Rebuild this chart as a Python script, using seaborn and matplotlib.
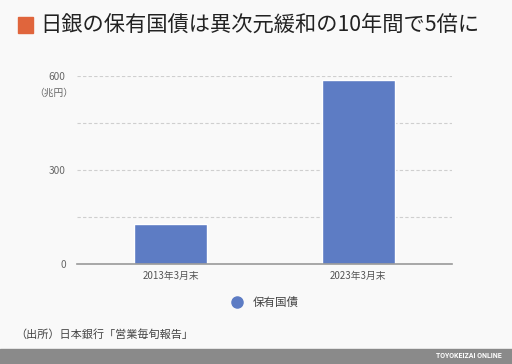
import pandas as pd
import matplotlib.pyplot as plt
import seaborn as sns
from matplotlib.lines import Line2D
from matplotlib.patches import Rectangle

# Data (trillion yen)
categories = ["2013年3月末", "2023年3月末"]
holdings = [127, 585]
series_name = "保有国債"
yticks = [0, 300, 600]
grid_lines = [150, 300, 450, 600]

df = pd.DataFrame({"date": categories, "value": holdings})

sns.set_theme(style="white")
plt.rcParams["font.family"] = ["Noto Sans CJK JP", "DejaVu Sans"]

bg = "#f9f9f9"
blue = "#5d7cc4"

fig = plt.figure(figsize=(5.12, 3.64), dpi=100, facecolor=bg)
ax = fig.add_axes([0.15, 0.2747, 0.733, 0.5173], facecolor=bg)

sns.barplot(data=df, x="date", y="value", color=blue, width=0.39,
            saturation=1, ax=ax)

ax.set_xlim(-0.5, 1.5)
ax.set_ylim(0, 600)
for g in grid_lines:
    ax.axhline(g, color="#cfcfcf", lw=0.8, ls=(0, (3, 2)), zorder=0)

ax.set_yticks(yticks)
ax.set_yticklabels([str(t) for t in yticks])
ax.tick_params(axis="y", length=0, labelsize=7.3, labelcolor="#666666", pad=8)
ax.tick_params(axis="x", length=3, width=0.8, color="#bbbbbb", labelsize=7,
               labelcolor="#555555", pad=2)
ax.set_xlabel("")
ax.set_ylabel("")
for s in ["top", "right", "left"]:
    ax.spines[s].set_visible(False)
ax.spines["bottom"].set_color("#999999")
ax.spines["bottom"].set_linewidth(1.2)

# unit label
fig.text(0.066, 0.745, "（兆円）", fontsize=7, color="#666666", va="center")

# title
fig.patches.append(Rectangle((18 / 512, 1 - 33 / 364), 15 / 512, 16 / 364,
                             transform=fig.transFigure, color="#e0653c"))
fig.text(40 / 512, 1 - 24.5 / 364, "日銀の保有国債は異次元緩和の10年間で5倍に",
         fontsize=15.3, color="#222222", va="center")

# legend
handle = Line2D([], [], marker="o", ls="", markersize=8, color=blue)
fig.legend([handle], [series_name], loc="center", bbox_to_anchor=(0.512, 1 - 302.5 / 364),
           frameon=False, fontsize=8.3, handletextpad=0.4, labelcolor="#444444")

# source
fig.text(15 / 512, 1 - 335 / 364, "（出所）日本銀行「営業毎旬報告」",
         fontsize=8, color="#444444", va="center")

# footer bar
fig.patches.append(Rectangle((0, 0), 1, 15 / 364, transform=fig.transFigure,
                             color="#8a8a8a"))
fig.text(502 / 512, 7.5 / 364, "TOYOKEIZAI ONLINE", fontsize=5, color="white",
         ha="right", va="center", fontweight="bold", family="Roboto")

fig.savefig("out.png", dpi=100, facecolor=bg)
